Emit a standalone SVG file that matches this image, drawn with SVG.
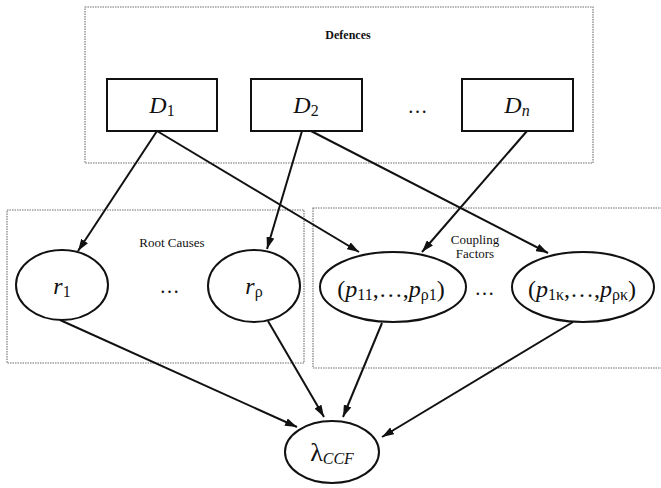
<svg xmlns="http://www.w3.org/2000/svg" width="661" height="488" viewBox="0 0 661 488">
  <style>
    .group { fill: none; stroke: #6e6e6e; stroke-width: 1.1; stroke-dasharray: 1.5 1; }
    .node { fill: #fff; stroke: #111; stroke-width: 2; }
    .edge { fill: none; stroke: #111; stroke-width: 2; marker-end: url(#arrow); }
    .lbl { font-family: "Liberation Serif", "Times New Roman", serif; fill: #111; text-anchor: middle; }
    .small { font-size: 12px; font-weight: bold; }
    .mid { font-size: 13px; }
    .math { font-size: 24px; }
    .it { font-style: italic; }
    .sub { font-size: 16px; }
    .dots { font-size: 20px; letter-spacing: 1px; }
  </style>
  <defs>
    <marker id="arrow" viewBox="0 0 12 8" refX="12" refY="4" markerWidth="12" markerHeight="8" markerUnits="userSpaceOnUse" orient="auto">
      <path d="M0,0 L12,4 L0,8 Z" fill="#111"/>
    </marker>
  </defs>

  <!-- grouping frames -->
  <g id="frames">
    <rect class="group" x="85" y="7" width="508" height="156"/>
    <text class="lbl small" x="348" y="39">Defences</text>
    <rect class="group" x="7" y="210" width="297" height="153"/>
    <text class="lbl mid" x="172" y="247">Root Causes</text>
    <rect class="group" x="313" y="208" width="352" height="160"/>
    <text class="lbl mid" x="475" y="244">Coupling</text>
    <text class="lbl mid" x="475" y="258">Factors</text>
  </g>

  <!-- connectors -->
  <g id="connectors">
    <line class="edge" x1="157" y1="131" x2="78" y2="251"/>
    <line class="edge" x1="157" y1="131" x2="359" y2="252"/>
    <line class="edge" x1="302" y1="131" x2="267" y2="249"/>
    <line class="edge" x1="311" y1="131" x2="548" y2="253"/>
    <line class="edge" x1="527" y1="131" x2="422" y2="252"/>
    <line class="edge" x1="60" y1="320" x2="297" y2="427"/>
    <line class="edge" x1="268" y1="321" x2="324" y2="417"/>
    <line class="edge" x1="382" y1="323" x2="343" y2="417"/>
    <line class="edge" x1="573" y1="322" x2="382" y2="437"/>
  </g>

  <!-- defences -->
  <g id="D1">
    <rect class="node" x="107" y="79" width="110" height="52"/>
    <text class="lbl math" x="162" y="113"><tspan class="it">D</tspan><tspan class="sub" dy="3">1</tspan></text>
  </g>
  <g id="D2">
    <rect class="node" x="251" y="79" width="111" height="52"/>
    <text class="lbl math" x="306" y="113"><tspan class="it">D</tspan><tspan class="sub" dy="3">2</tspan></text>
  </g>
  <text class="lbl dots" x="418" y="113">…</text>
  <g id="Dn">
    <rect class="node" x="462" y="79" width="111" height="52"/>
    <text class="lbl math" x="517" y="113"><tspan class="it">D</tspan><tspan class="sub it" dy="3">n</tspan></text>
  </g>

  <!-- root causes -->
  <g id="r1">
    <ellipse class="node" cx="62" cy="285" rx="46" ry="35"/>
    <text class="lbl math" x="62" y="294"><tspan class="it">r</tspan><tspan class="sub" dy="3">1</tspan></text>
  </g>
  <text class="lbl dots" x="170" y="293">…</text>
  <g id="r_rho">
    <ellipse class="node" cx="254" cy="286" rx="46" ry="36"/>
    <text class="lbl math" x="254" y="294"><tspan class="it">r</tspan><tspan class="sub" dy="3">ρ</tspan></text>
  </g>

  <!-- coupling factors -->
  <g id="p_1">
    <ellipse class="node" cx="393" cy="287" rx="73" ry="35"/>
    <text class="lbl math" x="391" y="297">(<tspan class="it">p</tspan><tspan class="sub" dy="3">11</tspan><tspan dy="-3">,…,</tspan><tspan class="it">p</tspan><tspan class="sub" dy="3">ρ1</tspan><tspan dy="-3">)</tspan></text>
  </g>
  <text class="lbl dots" x="485" y="295">…</text>
  <g id="p_kappa">
    <ellipse class="node" cx="583" cy="287" rx="71" ry="35"/>
    <text class="lbl math" x="582" y="297">(<tspan class="it">p</tspan><tspan class="sub" dy="3">1κ</tspan><tspan dy="-3">,…,</tspan><tspan class="it">p</tspan><tspan class="sub" dy="3">ρκ</tspan><tspan dy="-3">)</tspan></text>
  </g>

  <!-- common cause failure rate -->
  <g id="lambda_ccf">
    <ellipse class="node" cx="332" cy="452" rx="47" ry="31"/>
    <text class="lbl math" x="332" y="461"><tspan font-size="26">λ</tspan><tspan class="sub it" dy="3">CCF</tspan></text>
  </g>
</svg>
